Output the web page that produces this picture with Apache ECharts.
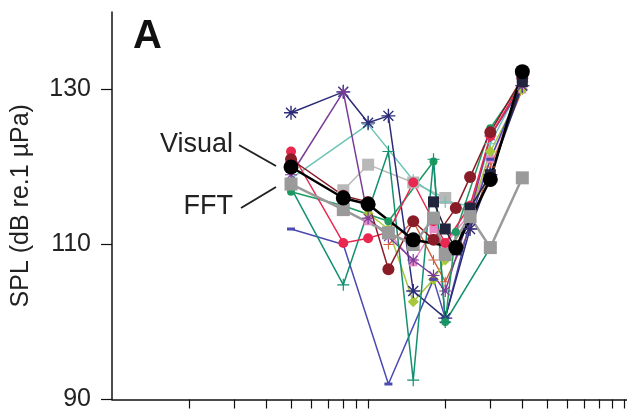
<!DOCTYPE html>
<html>
<head>
<meta charset="utf-8">
<script src="https://cdn.jsdelivr.net/npm/echarts@6/dist/echarts.min.js"></script>
<style>
html,body{margin:0;padding:0;background:#fff;}
#chart{width:627px;height:412px;}
</style>
</head>
<body>
<div id="chart"></div>
<script>
// frequencies (Hz) of the measurement columns
const freqs = [500, 800, 1000, 1200, 1500, 1800, 2000, 2200, 2500, 3000, 4000]
const minorTicks = [200, 300, 400, 500, 600, 700, 800, 900, 1000, 2000, 3000, 4000, 5000, 6000, 7000, 8000, 9000, 10000]

// SPL values, dB re 1 µPa (null = no point at that frequency)
const lightGrey   = [null, 117, 120.3, null, 118, null, 116, null, 114, null, null]
const lightTeal   = [118.5, null, 125.5, null, 118.3, null, 115.5, null, 115, 123, 131]
const pink        = [null, null, 113, 111.6, 107.7, 112, 110, null, 114, 121, 130]
const tan         = [null, null, null, 110, 113, 108, 105.2, null, 112, 120, 130]
const yellowGreen = [null, null, 114, 112, 102.6, 105.5, 108, null, 114, 122, 130]
const slateBlue   = [112, 110, null, 92, null, 105.5, 100.5, null, 113, 121, 130.8]
const navyStar    = [127, 129.7, 125.7, 126.6, 104, null, 100.5, null, 112, 119, 130.5]
const purple      = [119, 129.7, 113.4, 111, 108, 106, 104, null, 114, 124, 130.5]
const greenDot    = [116.8, 115, null, 113, null, 120.7, 100, 111.6, null, 125, 131]
const greenPlus   = [117.3, 104.8, null, 122, 92.5, 121, 100, null, null, 109.6, null]
const red         = [122, 110.2, 110.8, 111.6, 118, 113, 110.2, null, 115, 124, 131]
const maroon      = [121, 116.3, 115.5, 106.8, 113, 110.6, null, 114.7, 118.7, 124.5, 131.5]
const darkSquare  = [null, null, null, null, null, 115.5, 112, 109.3, 114.7, 119, 131]
const fftGrey     = [117.8, 114.5, null, 111.5, 110, 113.4, 108.7, null, 113.6, 109.6, 118.6]
const visual      = [120, 116, 115.2, null, 110.6, null, null, 109.6, null, 118.4, 132.3]

const PLUS = 'path://M-1,-10h2v9h9v2h-9v9h-2v-9h-9v-2h9z'
const STAR = 'path://M-1,-10h2v9h9v2h-9v9h-2v-9h-9v-2h9z M-7.8,-6.4L-6.4,-7.8L0,-1.4L6.4,-7.8L7.8,-6.4L1.4,0L7.8,6.4L6.4,7.8L0,1.4L-6.4,7.8L-7.8,6.4L-1.4,0Z'
const FONT = '"Liberation Sans", Arial, Helvetica, sans-serif'

function pairs(vals){
  return freqs.map((f, i) => [f, vals[i]]).filter(p => p[1] != null)
}

function line(vals, color, symbol, size, width){
  return {
    type: 'line',
    data: pairs(vals),
    symbol: symbol,
    symbolSize: size,
    symbolKeepAspect: true,
    showAllSymbol: true,
    lineStyle: { color: color, width: width || 1.5 },
    itemStyle: { color: color },
    animation: false,
    z: 2
  }
}

const chart = echarts.init(document.getElementById('chart'))

chart.setOption({
  backgroundColor: '#fff',
  grid: { left: 112, right: 0, top: 12, bottom: 12, containLabel: false },
  xAxis: {
    type: 'log',
    logBase: 10,
    min: 100,
    max: 10250,
    axisLine: { show: true, onZero: false, lineStyle: { color: '#111', width: 1.5 } },
    axisTick: { show: true, inside: false, length: 9, customValues: minorTicks, lineStyle: { color: '#111', width: 1.2 } },
    axisLabel: { show: false },
    splitLine: { show: false }
  },
  yAxis: {
    type: 'value',
    min: 90,
    max: 140,
    interval: 20,
    name: 'SPL (dB re.1 µPa)',
    nameLocation: 'middle',
    nameGap: 78,
    nameTextStyle: { fontFamily: FONT, fontSize: 25, color: '#222' },
    axisLine: { show: true, lineStyle: { color: '#111', width: 1.5 } },
    axisTick: { show: true, length: 11, lineStyle: { color: '#111', width: 1.2 } },
    axisLabel: { fontFamily: FONT, fontSize: 25, color: '#222', margin: 21, showMaxLabel: false },
    splitLine: { show: false }
  },
  graphic: [
    { type: 'text', style: { x: 133, y: 37, text: 'A', font: 'bold 40px ' + FONT, fill: '#111', verticalAlign: 'middle' } },
    { type: 'text', style: { x: 233, y: 145, text: 'Visual', font: '27px ' + FONT, fill: '#222', align: 'right', verticalAlign: 'middle' } },
    { type: 'text', style: { x: 233, y: 207, text: 'FFT', font: '27px ' + FONT, fill: '#222', align: 'right', verticalAlign: 'middle' } },
    { type: 'line', shape: { x1: 239, y1: 145, x2: 276, y2: 166 }, style: { stroke: '#222', lineWidth: 2 } },
    { type: 'line', shape: { x1: 241, y1: 208, x2: 276, y2: 187 }, style: { stroke: '#222', lineWidth: 2 } }
  ],
  series: [
    line(lightGrey, '#b8b8b8', 'rect', 12),
    line(lightTeal, '#6cc5b5', PLUS, 12),
    line(pink, '#e68cc8', 'rect', 8),
    line(tan, '#d0603c', PLUS, 10),
    line(yellowGreen, '#a8c83c', 'diamond', 11),
    line(slateBlue, '#4a4ab0', 'rect', [8, 3]),
    line(navyStar, '#2c2c78', STAR, 14),
    line(purple, '#7a3c98', STAR, 12),
    line(greenDot, '#1e9a60', 'circle', 8),
    line(greenPlus, '#129070', PLUS, 12),
    line(red, '#e82850', 'circle', 10),
    line(maroon, '#8a1c28', 'circle', 12),
    line(darkSquare, '#22243e', 'rect', 11),
    line(fftGrey, '#9a9a9a', 'rect', 13, 2.5),
    line(visual, '#000', 'circle', 15, 2.5)
  ]
})
</script>
</body>
</html>
